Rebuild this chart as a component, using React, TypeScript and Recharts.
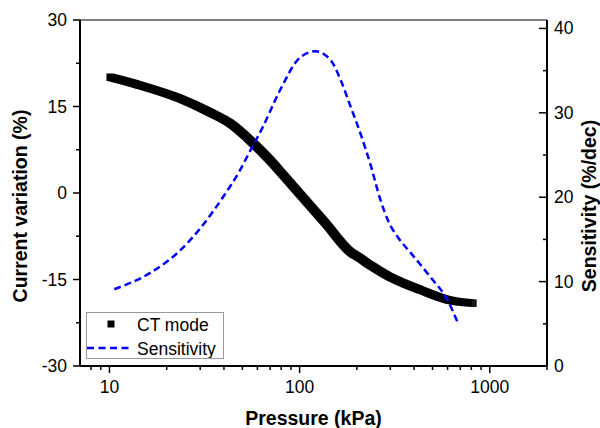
import React from "react";
import {
  LineChart,
  Line,
  XAxis,
  YAxis,
  Legend,
  ReferenceLine,
} from "recharts";

// CT mode: current variation (%) vs pressure (kPa)
const ctPressure = [10, 14.4, 23.4, 33.7, 43, 56.9, 69.9, 83.6, 100.6, 136.6, 184.8, 208, 240, 300, 350, 432, 600, 823];
const ctVariation = [20.1, 18.7, 16.4, 14.0, 12.1, 8.65, 5.7, 2.8, -0.2, -5.2, -10.2, -11.3, -12.7, -14.6, -15.6, -16.8, -18.5, -19.1];

// Sensitivity (%/dec) vs pressure (kPa)
const sensPressure = [10.6, 16.3, 24.3, 31, 39.5, 48.6, 53.5, 64, 79, 100, 121, 145, 165, 185, 210, 235, 266, 295, 330, 384, 489, 600, 680];
const sensValue = [9.1, 11.0, 14.0, 16.7, 20.0, 23.2, 25.0, 28.3, 32.7, 36.5, 37.3, 36.3, 33.8, 30.8, 27.4, 24.0, 19.7, 17.0, 15.2, 13.4, 10.5, 7.8, 5.1];

const xMajor = [10, 100, 1000];
const xTicks = [8, 9, 10, 20, 30, 40, 50, 60, 70, 80, 90, 100, 200, 300, 400, 500, 600, 700, 800, 900, 1000, 2000];
const leftTicks = [-30, -22.5, -15, -7.5, 0, 7.5, 15, 22.5, 30];
const rightTicks = [0, 5, 10, 15, 20, 25, 30, 35, 40];

const ctData = ctPressure.map((p, i) => ({ p, v: ctVariation[i] }));
const sensData = sensPressure.map((p, i) => ({ p, s: sensValue[i] }));

const FONT = "'Liberation Sans', Arial, sans-serif";
const tickFont = { fontFamily: FONT, fontSize: 17.5, fill: "#000" };
const titleStyle = { fontFamily: FONT, fontSize: 19.5, fontWeight: 700, fill: "#000" };

const XTick = (props: any) => {
  const { x, y, payload } = props;
  const major = xMajor.includes(payload.value);
  return (
    <g>
      <line x1={x} x2={x} y1={y} y2={y + (major ? 7 : 4)} stroke="#000" strokeWidth={1.5} />
      {major && (
        <text x={x} y={y + 27} textAnchor="middle" {...tickFont}>
          {payload.value}
        </text>
      )}
    </g>
  );
};

const LeftTick = (props: any) => {
  const { x, y, payload } = props;
  const major = payload.value % 15 === 0;
  return (
    <g>
      <line x1={x} x2={x - (major ? 7 : 4)} y1={y} y2={y} stroke="#000" strokeWidth={1.5} />
      {major && (
        <text x={x - 13} y={y + 6} textAnchor="end" {...tickFont}>
          {payload.value}
        </text>
      )}
    </g>
  );
};

const RightTick = (props: any) => {
  const { x, y, payload } = props;
  const major = payload.value % 10 === 0;
  return (
    <g>
      <line x1={x} x2={x - (major ? 8 : 4)} y1={y} y2={y} stroke="#000" strokeWidth={1.5} />
      {major && (
        <text x={x + 7} y={y + 6} textAnchor="start" {...tickFont}>
          {payload.value}
        </text>
      )}
    </g>
  );
};

const renderLegend = () => (
  <svg width={136} height={45} style={{ display: "block" }}>
    <rect x={20.5} y={7.5} width={7} height={7} fill="#000" />
    <text x={50} y={17.5} {...tickFont}>CT mode</text>
    <line x1={0} x2={42} y1={35} y2={35} stroke="#0000ff" strokeWidth={2.5} strokeDasharray="7 4.5" />
    <text x={50} y={41.5} {...tickFont}>Sensitivity</text>
  </svg>
);

export default function App() {
  return (
    <div style={{ position: "absolute", left: 0, top: 0, width: 600, height: 428, background: "#fff" }}>
      <LineChart width={600} height={428} margin={{ top: 20, right: 0, bottom: 0, left: 0 }}>
        <defs>
          <filter id="squareSweep" x="-10%" y="-10%" width="120%" height="120%">
            <feMorphology operator="dilate" radius="3.1" />
          </filter>
        </defs>
        <XAxis
          dataKey="p"
          type="number"
          scale="log"
          domain={[7, 2000]}
          allowDataOverflow
          ticks={xTicks}
          interval={0}
          tick={<XTick />}
          tickLine={false}
          tickSize={0}
          tickMargin={0}
          axisLine={{ stroke: "#000", strokeWidth: 2 }}
          height={62}
          label={{ value: "Pressure (kPa)", position: "center", dy: 21, style: titleStyle }}
        />
        <YAxis
          yAxisId="left"
          type="number"
          domain={[-30, 30]}
          allowDataOverflow
          ticks={leftTicks}
          interval={0}
          tick={<LeftTick />}
          tickLine={false}
          tickSize={0}
          tickMargin={0}
          axisLine={{ stroke: "#000", strokeWidth: 2 }}
          width={80}
          label={{ value: "Current variation (%)", angle: -90, position: "center", dx: -19.5, dy: 13, style: titleStyle }}
        />
        <YAxis
          yAxisId="right"
          orientation="right"
          type="number"
          domain={[0, 41]}
          allowDataOverflow
          ticks={rightTicks}
          interval={0}
          tick={<RightTick />}
          tickLine={false}
          tickSize={0}
          tickMargin={0}
          axisLine={{ stroke: "#000", strokeWidth: 2 }}
          width={53}
          label={{ value: "Sensitivity (%/dec)", angle: -90, position: "center", dx: 16, dy: 13, style: titleStyle }}
        />
        <ReferenceLine yAxisId="left" y={30} stroke="#000" strokeWidth={1.2} />
        <Line
          yAxisId="left"
          data={ctData}
          dataKey="v"
          name="CT mode"
          type="monotone"
          stroke="#000"
          strokeWidth={1.5}
          filter="url(#squareSweep)"
          dot={false}
          isAnimationActive={false}
        />
        <Line
          yAxisId="right"
          data={sensData}
          dataKey="s"
          name="Sensitivity"
          type="monotone"
          stroke="#0000ff"
          strokeWidth={2.5}
          strokeDasharray="7 4"
          dot={false}
          isAnimationActive={false}
        />
        <Legend
          layout="vertical"
          align="center"
          verticalAlign="middle"
          content={renderLegend}
          wrapperStyle={{
            left: 86,
            top: 312,
            width: 138,
            height: 47,
            border: "1px solid #999",
            boxSizing: "border-box",
          }}
        />
      </LineChart>
    </div>
  );
}
